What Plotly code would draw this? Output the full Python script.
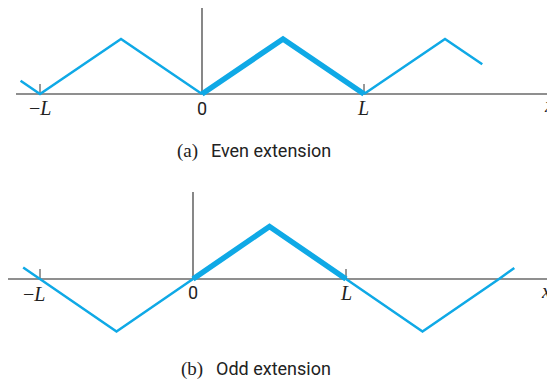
import plotly.graph_objects as go

# ---------------- data (x in units of L) ----------------
even_thin_left_x = [-1.12, -1.0, -0.5, 0.0]
even_thin_left_y = [0.24, 0.0, 1.0, 0.0]
even_thick_x = [0.0, 0.5, 1.0]
even_thick_y = [0.0, 1.0, 0.0]
even_thin_right_x = [1.0, 1.5, 1.73]
even_thin_right_y = [0.0, 1.0, 0.54]

odd_thin_left_x = [-1.11, -1.0, -0.5, 0.0]
odd_thin_left_y = [0.22, 0.0, -1.0, 0.0]
odd_thick_x = [0.0, 0.5, 1.0]
odd_thick_y = [0.0, 1.0, 0.0]
odd_thin_right_x = [1.0, 1.5, 2.0, 2.1]
odd_thin_right_y = [0.0, -1.0, 0.0, 0.21]

tick_positions = [-1, 0, 1]
tick_labels = ["\u2212<i>L</i>", "0", "<i>L</i>"]
captions = ["(a)", "Even extension", "(b)", "Odd extension"]

# ---------------- style / layout ----------------
OFF = 8                      # page body margin of the html page
W, H = 555 - OFF, 383 - OFF  # figure size so the page fits the window
BLUE = "#0FA9E6"
AXIS = "#6a6a6a"
SERIF = "Liberation Serif, DejaVu Serif, serif"
SANS = "Roboto, Liberation Sans, sans-serif"

def ranges(x0px, Lpx, y0py, hpx):
    x0px -= OFF
    y0py -= OFF
    xr = [(0 - x0px) / Lpx, (W - x0px) / Lpx]
    yr = [(y0py - H) / hpx, y0py / hpx]
    return xr, yr

xa, ya = ranges(202, 162, 94, 55)
xb, yb = ranges(193, 153, 279, 52.5)

fig = go.Figure()

def add(x, y, w, xaxis, yaxis):
    fig.add_trace(go.Scatter(x=x, y=y, mode="lines",
                             line=dict(color=BLUE, width=w),
                             xaxis=xaxis, yaxis=yaxis, hoverinfo="skip",
                             showlegend=False))

add(even_thin_left_x, even_thin_left_y, 2.5, "x", "y")
add(even_thin_right_x, even_thin_right_y, 2.5, "x", "y")
add(even_thick_x, even_thick_y, 5.5, "x", "y")
add(odd_thin_left_x, odd_thin_left_y, 2.5, "x2", "y2")
add(odd_thin_right_x, odd_thin_right_y, 2.5, "x2", "y2")
add(odd_thick_x, odd_thick_y, 5.5, "x2", "y2")

shapes = []
def axes_shapes(xref, yref, xleft, xright, ytop, tickh):
    shapes.append(dict(type="line", xref=xref, yref=yref, x0=xleft, x1=xright,
                       y0=0, y1=0, line=dict(color=AXIS, width=1.6), layer="below"))
    shapes.append(dict(type="line", xref=xref, yref=yref, x0=0, x1=0,
                       y0=0, y1=ytop, line=dict(color=AXIS, width=1.6), layer="below"))
    for t in (-1, 1):
        shapes.append(dict(type="line", xref=xref, yref=yref, x0=t, x1=t,
                           y0=0, y1=tickh, line=dict(color="#333333", width=1),
                           layer="below"))

axes_shapes("x", "y", (16 - 202) / 162, 2.25, (94 - 6) / 55, 10 / 55)
axes_shapes("x2", "y2", (7 - 193) / 153, 2.45, (279 - 192) / 52.5, 10 / 52.5)

ann = []
def tick_ann(xref, yref, x, y, text, font, size):
    ann.append(dict(xref=xref, yref=yref, x=x, y=y, text=text, showarrow=False,
                    xanchor="center", yanchor="middle",
                    font=dict(family=font, size=size, color="#222222")))

# panel (a)
tick_ann("x", "y", tick_positions[0], (94 - 108) / 55, tick_labels[0], SERIF, 20)
tick_ann("x", "y", tick_positions[1], (94 - 108) / 55, tick_labels[1], SANS, 18)
tick_ann("x", "y", tick_positions[2] - 0.005, (94 - 108) / 55, tick_labels[2], SERIF, 20)
tick_ann("x", "y", (549 - 202) / 162, (94 - 105) / 55, "<i>x</i>", SERIF, 20)
# panel (b)
tick_ann("x2", "y2", (33.5 - 193) / 153, (279 - 294) / 52.5, tick_labels[0], SERIF, 20)
tick_ann("x2", "y2", tick_positions[1], (279 - 292) / 52.5, tick_labels[1], SANS, 18)
tick_ann("x2", "y2", tick_positions[2], (279 - 293) / 52.5, tick_labels[2], SERIF, 20)
tick_ann("x2", "y2", (546 - 193) / 153, (279 - 291) / 52.5, "<i>x</i>", SERIF, 20)

def caption(xpx, ypy, lab, txt):
    ann.append(dict(xref="paper", yref="paper", x=(xpx - OFF) / W,
                    y=1 - (ypy - OFF) / H,
                    text=f"<span style='font-family:{SERIF}; font-size:19px'>{lab}</span>\u2002\u2009{txt}",
                    showarrow=False, xanchor="center", yanchor="middle",
                    font=dict(family=SANS, size=18, color="#222222")))

caption(253.5, 151, captions[0], captions[1])
caption(255.5, 369, captions[2], captions[3])

hidden = dict(visible=False, showgrid=False, zeroline=False, fixedrange=True)
fig.update_layout(
    width=W, height=H,
    margin=dict(l=0, r=0, t=0, b=0),
    paper_bgcolor="white", plot_bgcolor="rgba(0,0,0,0)",
    xaxis=dict(hidden, range=xa, domain=[0, 1]),
    yaxis=dict(hidden, range=ya, domain=[0, 1]),
    xaxis2=dict(hidden, range=xb, domain=[0, 1], anchor="y2"),
    yaxis2=dict(hidden, range=yb, domain=[0, 1], anchor="x2", overlaying="y"),
    shapes=shapes, annotations=ann,
)

fig.write_html("out.html")
